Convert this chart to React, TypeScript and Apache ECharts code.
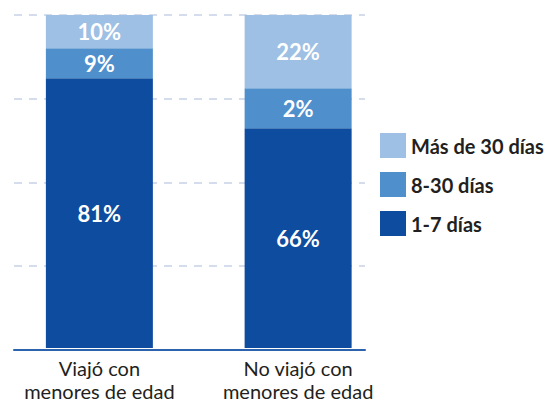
import React, { useEffect, useRef } from "react";
import * as echarts from "echarts";

const categories = ["Viajó con\nmenores de edad", "No viajó con\nmenores de edad"];
const seriesNames = ["1-7 días", "8-30 días", "Más de 30 días"];
const days1to7 = [81, 66];
const days8to30 = [9, 12];
const days8to30Labels = ["9%", "2%"];
const daysOver30 = [10, 22];
const colors = ["#0d4c9e", "#4f8fcc", "#9dc0e4"];

export default function App() {
  const ref = useRef<HTMLDivElement>(null);
  useEffect(() => {
    if (!ref.current) return;
    document.body.style.margin = "0";
    const chart = echarts.init(ref.current, undefined, { renderer: "svg" });
    const font = "Lato, 'Open Sans', sans-serif";
    const label = (fmt?: (p: any) => string) => ({
      show: true,
      position: "inside" as const,
      color: "#ffffff",
      fontFamily: font,
      fontWeight: "bold" as const,
      fontSize: 22,
      formatter: fmt ?? ((p: any) => `${p.value}%`),
    });
    chart.setOption({
      animation: false,
      textStyle: { fontFamily: font },
      grid: [
        { left: 14, top: 15, width: 351, height: 334.5 },
        { left: -2.5, top: 15, width: 400, height: 334.5 },
      ],
      xAxis: [
        {
          gridIndex: 0,
          type: "category",
          data: categories,
          axisLine: { show: true, lineStyle: { color: "#2d62ad", width: 2 } },
          axisTick: { show: false },
          axisLabel: { show: false },
        },
        {
          gridIndex: 1,
          type: "category",
          data: categories,
          axisLine: { show: false },
          axisTick: { show: false },
          axisLabel: {
            interval: 0,
            hideOverlap: false,
            color: "#231f20",
            fontSize: 20,
            lineHeight: 23,
            margin: 8,
            fontFamily: font,
          },
        },
      ],
      yAxis: [
        {
          gridIndex: 0,
          type: "value",
          min: 0,
          max: 100,
          interval: 25,
          axisLabel: { show: false },
          axisLine: { show: false },
          axisTick: { show: false },
          splitLine: {
            show: true,
            lineStyle: { color: "#d5dcec", width: 2, type: [8, 7] },
          },
        },
        {
          gridIndex: 1,
          type: "value",
          min: 0,
          max: 100,
          interval: 25,
          axisLabel: { show: false },
          axisLine: { show: false },
          axisTick: { show: false },
          splitLine: { show: false },
        },
      ],
      legend: {
        orient: "vertical",
        left: 380,
        top: 133,
        padding: 0,
        itemWidth: 26,
        itemHeight: 25,
        itemGap: 14,
        icon: "rect",
        data: [seriesNames[2], seriesNames[1], seriesNames[0]],
        textStyle: {
          color: "#231f20",
          fontSize: 20,
          fontWeight: "bold",
          fontFamily: font,
        },
      },
      series: [
        {
          name: seriesNames[0],
          type: "bar",
          stack: "t",
          xAxisIndex: 1,
          yAxisIndex: 1,
          barWidth: 107,
          data: days1to7,
          itemStyle: { color: colors[0] },
          label: label(),
        },
        {
          name: seriesNames[1],
          type: "bar",
          stack: "t",
          xAxisIndex: 1,
          yAxisIndex: 1,
          barWidth: 107,
          data: days8to30,
          itemStyle: { color: colors[1] },
          label: label((p: any) => days8to30Labels[p.dataIndex]),
        },
        {
          name: seriesNames[2],
          type: "bar",
          stack: "t",
          xAxisIndex: 1,
          yAxisIndex: 1,
          barWidth: 107,
          data: daysOver30,
          itemStyle: { color: colors[2] },
          label: label(),
        },
      ],
    });
    return () => chart.dispose();
  }, []);
  return <div ref={ref} style={{ width: 556, height: 402 }} />;
}
